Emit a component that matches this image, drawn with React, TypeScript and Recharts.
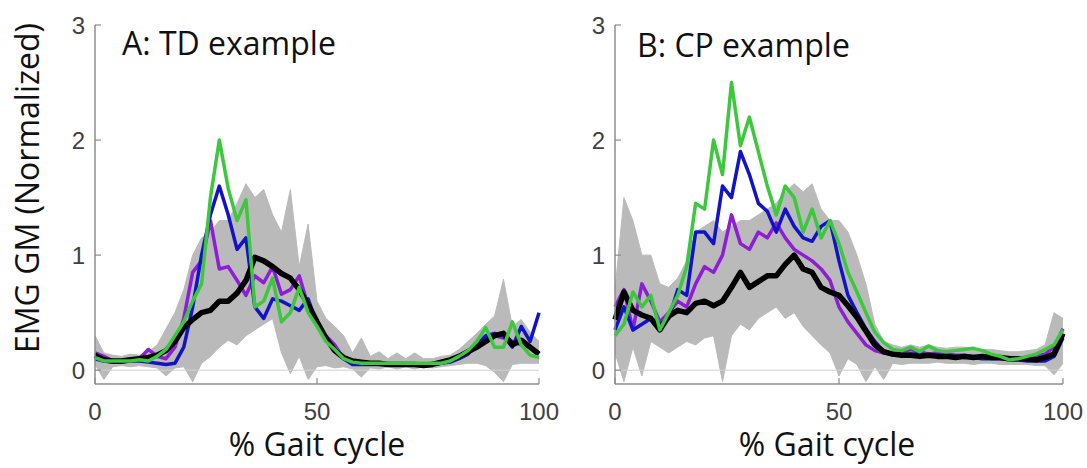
import { Area, ComposedChart, Line, ReferenceLine, XAxis, YAxis } from "recharts"

// % gait cycle, sampled every 2%
const gaitPct = [
  0, 2, 4, 6, 8, 10, 12, 14, 16, 18, 20, 22, 24, 26, 28, 30, 32, 34, 36, 38, 40, 42, 44, 46, 48, 50,
  52, 54, 56, 58, 60, 62, 64, 66, 68, 70, 72, 74, 76, 78, 80, 82, 84, 86, 88, 90, 92, 94, 96, 98, 100,
]

const yTicks = [0, 1, 2, 3]
const xTicks = [0, 50, 100]

// A: TD example
const tdLow = [
  0.05, -0.08, 0.03, 0.04, 0.03, 0.04, 0.03, 0.02, -0.05, 0.02, 0.03, -0.1, 0.06, 0.12, 0.2, 0.26, 0.22,
  0.3, 0.35, 0.4, 0.45, 0.15, -0.03, 0.12, -0.08, 0.03, 0.04, 0.02, 0.03, 0.01, -0.06, 0.02, 0.01, 0.03,
  0.01, 0.03, 0.01, 0.03, 0.02, 0.03, 0.04, 0.05, 0.06, 0.06, 0.04, -0.02, -0.1, 0.05, 0.06, 0.06, 0.06,
]
const tdHigh = [
  0.3, 0.15, 0.13, 0.12, 0.14, 0.13, 0.16, 0.22, 0.36, 0.5, 0.7, 1.0, 1.15, 1.2, 1.3, 1.3, 1.45, 1.62,
  1.5, 1.57, 1.35, 1.2, 1.57, 0.9, 1.27, 0.6, 0.45, 0.38, 0.3, 0.15, 0.28, 0.12, 0.16, 0.1, 0.15, 0.1,
  0.15, 0.1, 0.1, 0.12, 0.13, 0.18, 0.25, 0.32, 0.4, 0.47, 0.79, 0.38, 0.44, 0.33, 0.25,
]
const tdMean = [
  0.13, 0.09, 0.08, 0.08, 0.09, 0.1, 0.11, 0.13, 0.17, 0.25, 0.37, 0.44, 0.5, 0.52, 0.6, 0.6, 0.67, 0.78,
  0.98, 0.95, 0.9, 0.84, 0.8, 0.7, 0.57, 0.42, 0.28, 0.17, 0.11, 0.08, 0.07, 0.06, 0.06, 0.05, 0.05,
  0.05, 0.05, 0.04, 0.05, 0.07, 0.09, 0.12, 0.16, 0.2, 0.25, 0.3, 0.32, 0.22, 0.26, 0.2, 0.14,
]
const tdPurple = [
  0.15, 0.12, 0.08, 0.08, 0.09, 0.1, 0.18, 0.12, 0.1, 0.2, 0.45, 0.85, 0.95, 1.3, 0.88, 0.9, 0.78, 0.65,
  0.82, 0.76, 0.9, 0.66, 0.7, 0.82, 0.56, 0.4, 0.3, 0.22, 0.1, 0.07, 0.06, 0.06, 0.05, 0.05, 0.05, 0.05,
  0.05, 0.05, 0.06, 0.07, 0.09, 0.12, 0.17, 0.22, 0.28, 0.3, 0.28, 0.25, 0.22, 0.2, 0.15,
]
const tdBlue = [
  0.1, 0.08, 0.07, 0.07, 0.08, 0.08, 0.07, 0.06, 0.05, 0.06, 0.2, 0.55, 1.0, 1.35, 1.6, 1.35, 1.05, 1.15,
  0.55, 0.45, 0.62, 0.6, 0.56, 0.52, 0.62, 0.4, 0.28, 0.18, 0.1, 0.05, 0.05, 0.05, 0.05, 0.05, 0.05,
  0.05, 0.05, 0.05, 0.05, 0.06, 0.07, 0.1, 0.14, 0.22, 0.3, 0.32, 0.3, 0.2, 0.38, 0.25, 0.5,
]
const tdGreen = [
  0.11, 0.08, 0.08, 0.08, 0.08, 0.09, 0.08, 0.12, 0.18, 0.3, 0.42, 0.6, 0.75, 1.5, 2.0, 1.58, 1.3, 1.48,
  0.55, 0.6, 0.8, 0.42, 0.5, 0.72, 0.5, 0.38, 0.25, 0.18, 0.1, 0.07, 0.06, 0.06, 0.06, 0.06, 0.06, 0.06,
  0.06, 0.06, 0.06, 0.06, 0.08, 0.12, 0.17, 0.25, 0.37, 0.2, 0.2, 0.42, 0.22, 0.13, 0.11,
]

// B: CP example
const cpLow = [
  0.15, -0.1, 0.2, -0.05, 0.25, 0.2, 0.15, 0.2, 0.25, 0.22, 0.28, 0.3, -0.1, 0.3, 0.4, 0.35, 0.45, 0.5,
  0.55, 0.45, 0.5, 0.38, 0.3, 0.22, 0.15, -0.05, 0.1, 0.05, -0.1, 0.03, -0.08, 0.06, 0.05, 0.06, 0.06,
  0.06, 0.07, 0.06, 0.06, 0.06, 0.05, 0.06, 0.06, 0.05, 0.05, 0.05, 0.05, 0.04, 0.04, -0.04, 0.06,
]
const cpHigh = [
  0.7, 1.5, 1.3, 1.0, 1.0, 0.75, 0.72, 0.8, 0.95, 1.2, 1.25, 1.3, 1.2, 1.25, 1.3, 1.3, 1.35, 1.4, 1.45,
  1.55, 1.62, 1.55, 1.62, 1.4, 1.3, 1.3, 1.2, 1.0, 0.75, 0.4, 0.25, 0.22, 0.2, 0.22, 0.2, 0.22, 0.2,
  0.19, 0.2, 0.2, 0.19, 0.18, 0.18, 0.17, 0.16, 0.16, 0.17, 0.18, 0.22, 0.5, 0.45,
]
const cpMean = [
  0.44, 0.68, 0.52, 0.48, 0.45, 0.35, 0.47, 0.52, 0.5, 0.58, 0.6, 0.56, 0.6, 0.72, 0.85, 0.72, 0.77,
  0.82, 0.82, 0.92, 1.0, 0.88, 0.85, 0.72, 0.68, 0.65, 0.56, 0.46, 0.34, 0.22, 0.16, 0.14, 0.13, 0.13,
  0.12, 0.13, 0.12, 0.12, 0.11, 0.12, 0.11, 0.12, 0.11, 0.11, 0.1, 0.1, 0.1, 0.09, 0.11, 0.14, 0.32,
]
const cpPurple = [
  0.55, 0.7, 0.35, 0.75, 0.6, 0.42, 0.5, 0.6, 0.55, 0.75, 0.9, 0.85, 1.0, 1.35, 1.1, 1.05, 1.2, 1.15,
  1.28, 1.15, 1.05, 1.0, 0.95, 0.88, 0.78, 0.55, 0.42, 0.32, 0.22, 0.17, 0.15, 0.14, 0.15, 0.18, 0.16,
  0.14, 0.15, 0.14, 0.13, 0.13, 0.12, 0.12, 0.12, 0.11, 0.11, 0.1, 0.11, 0.12, 0.14, 0.2, 0.36,
]
const cpBlue = [
  0.35, 0.55, 0.35, 0.4, 0.45, 0.4, 0.45, 0.7, 0.65, 1.2, 1.2, 1.1, 1.6, 1.5, 1.9, 1.7, 1.45, 1.38, 1.2,
  1.4, 1.25, 1.15, 1.12, 1.25, 1.3, 0.95, 0.65, 0.5, 0.36, 0.25, 0.16, 0.13, 0.13, 0.14, 0.14, 0.13,
  0.13, 0.12, 0.12, 0.11, 0.11, 0.1, 0.1, 0.1, 0.09, 0.09, 0.08, 0.08, 0.08, 0.12, 0.28,
]
const cpGreen = [
  0.3, 0.4, 0.68, 0.55, 0.65, 0.35, 0.5, 0.65, 0.9, 1.45, 1.4, 2.0, 1.7, 2.5, 1.95, 2.2, 1.9, 1.6, 1.35,
  1.6, 1.5, 1.2, 1.4, 1.15, 1.3, 1.1, 0.85, 0.68, 0.5, 0.33, 0.24, 0.18, 0.17, 0.2, 0.16, 0.21, 0.17,
  0.16, 0.17, 0.18, 0.19, 0.17, 0.14, 0.12, 0.09, 0.1, 0.12, 0.14, 0.18, 0.22, 0.35,
]

const AXIS = "#8c8c8c"
const TEXT_FONT = "'Open Sans', sans-serif"
const TICK_FONT = "'Liberation Sans', Arial, sans-serif"

function rows(lo: number[], hi: number[], mean: number[], purple: number[], blue: number[], green: number[]) {
  return gaitPct.map((x, i) => ({
    x,
    band: [lo[i], hi[i]],
    mean: mean[i],
    purple: purple[i],
    blue: blue[i],
    green: green[i],
  }))
}

const tdData = rows(tdLow, tdHigh, tdMean, tdPurple, tdBlue, tdGreen)
const cpData = rows(cpLow, cpHigh, cpMean, cpPurple, cpBlue, cpGreen)

const YTick = ({ x, y, payload }: any) => (
  <g>
    <line x1={x} x2={x + 6} y1={y} y2={y} stroke={AXIS} strokeWidth={1.2} />
    <text x={x - 10} y={y} textAnchor="end" dominantBaseline="central" fontSize={24} fill="#404040" fontFamily={TICK_FONT}>
      {payload.value}
    </text>
  </g>
)

const XTick = ({ x, y, payload }: any) => (
  <g>
    <line x1={x} x2={x} y1={y} y2={y - 6} stroke={AXIS} strokeWidth={1.2} />
    <text x={x} y={y + 27} textAnchor="middle" dominantBaseline="central" fontSize={24} fill="#404040" fontFamily={TICK_FONT}>
      {payload.value}
    </text>
  </g>
)

function Panel({ data, width, margin, yWidth }: { data: any[]; width: number; margin: any; yWidth: number }) {
  return (
    <ComposedChart width={width} height={468} data={data} margin={margin}>
      <XAxis
        dataKey="x"
        type="number"
        domain={[0, 100]}
        ticks={xTicks}
        height={30}
        tickSize={0}
        tickMargin={0}
        tickLine={false}
        axisLine={{ stroke: AXIS, strokeWidth: 1.5 }}
        tick={<XTick />}
        interval={0}
      />
      <YAxis
        type="number"
        domain={[-0.12, 3]}
        ticks={yTicks}
        width={yWidth}
        tickSize={0}
        tickMargin={0}
        tickLine={false}
        axisLine={{ stroke: AXIS, strokeWidth: 1.5 }}
        tick={<YTick />}
        allowDataOverflow
        interval={0}
      />
      <Area dataKey="band" type="linear" stroke="#bababa" strokeWidth={1} fill="#bababa" fillOpacity={1} isAnimationActive={false} dot={false} activeDot={false} />
      <ReferenceLine y={0} stroke="#d0d0d0" strokeWidth={1} />
      <Line dataKey="purple" type="linear" stroke="#8e1dd4" strokeWidth={3.5} dot={false} isAnimationActive={false} strokeLinejoin="round" />
      <Line dataKey="blue" type="linear" stroke="#1212c8" strokeWidth={3.5} dot={false} isAnimationActive={false} strokeLinejoin="round" />
      <Line dataKey="mean" type="linear" stroke="#000000" strokeWidth={5.5} dot={false} isAnimationActive={false} strokeLinejoin="round" />
      <Line dataKey="green" type="linear" stroke="#3cc83c" strokeWidth={3.5} dot={false} isAnimationActive={false} strokeLinejoin="round" />
    </ComposedChart>
  )
}

const labelStyle: React.CSSProperties = {
  position: "absolute",
  fontFamily: TEXT_FONT,
  fontSize: 32,
  lineHeight: "32px",
  color: "#111",
  whiteSpace: "nowrap",
}

export default function App() {
  return (
    <div style={{ position: "absolute", left: 0, top: 0, width: 1087, height: 468, background: "#fff" }}>
      <div style={{ position: "absolute", left: 0, top: 0 }}>
        <Panel data={tdData} width={560} margin={{ top: 25, right: 21, bottom: 54, left: 35 }} yWidth={60} />
      </div>
      <div style={{ position: "absolute", left: 560, top: 0 }}>
        <Panel data={cpData} width={527} margin={{ top: 25, right: 24, bottom: 54, left: 5 }} yWidth={50} />
      </div>
      <div style={{ ...labelStyle, left: 122, top: 27 }}>A: TD example</div>
      <div style={{ ...labelStyle, left: 637, top: 29 }}>B: CP example</div>
      <div style={{ ...labelStyle, left: 317, top: 428, transform: "translateX(-50%)" }}>% Gait cycle</div>
      <div style={{ ...labelStyle, left: 827, top: 428, transform: "translateX(-50%)" }}>% Gait cycle</div>
      <div
        style={{
          ...labelStyle,
          left: 27,
          top: 188,
          transform: "translate(-50%, -50%) rotate(-90deg)",
        }}
      >
        EMG GM (Normalized)
      </div>
    </div>
  )
}
